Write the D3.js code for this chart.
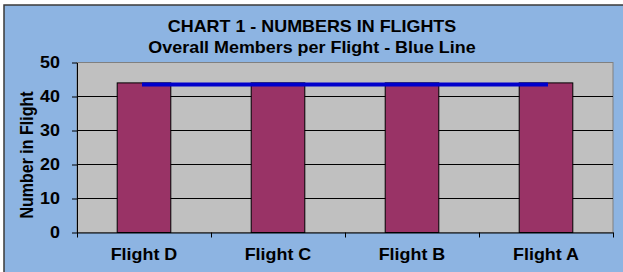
<!DOCTYPE html>
<html lang="en">
<head>
<meta charset="UTF-8">
<title>Chart 1 - Numbers in Flights</title>
<style>
  html, body { margin: 0; padding: 0; background: #fff; }
  svg { display: block; }
  text { font-family: "Liberation Sans", Arial, sans-serif; font-weight: bold; fill: #000; }
</style>
</head>
<body>
<div id="chart"></div>
<script src="https://cdn.jsdelivr.net/npm/d3@7"></script>
<script>
  const flights = ['Flight D', 'Flight C', 'Flight B', 'Flight A'];
  const members = [44, 44, 44, 44];
  const overall = [43.5, 43.5, 43.5, 43.5]; // blue line
  const yTicks = [0, 10, 20, 30, 40, 50];
  const titleLines = ['CHART 1 - NUMBERS IN FLIGHTS', 'Overall Members per Flight - Blue Line'];

  const W = 623, H = 272;
  const plot = {left: 77, right: 613, top: 62.5, bottom: 232.5};
  const sx = 1.12; // the text in the original is drawn a bit wide

  const svg = d3.select('#chart').append('svg')
    .attr('width', W)
    .attr('height', H);

  // chart area
  svg.append('rect')
    .attr('x', 4).attr('y', 5)
    .attr('width', W).attr('height', H)
    .attr('fill', '#8db4e2')
    .attr('stroke', '#3a3a3a')
    .attr('stroke-width', 1.5);

  const x = d3.scaleBand()
    .domain(flights)
    .range([plot.left, plot.right])
    .paddingInner(0.6)
    .paddingOuter(0.3);

  const y = d3.scaleLinear()
    .domain([0, 50])
    .range([plot.bottom, plot.top]);

  // plot area
  svg.append('rect')
    .attr('x', plot.left).attr('y', plot.top)
    .attr('width', plot.right - plot.left)
    .attr('height', plot.bottom - plot.top)
    .attr('fill', '#c0c0c0')
    .attr('stroke', '#808080');

  // gridlines
  svg.append('g')
    .selectAll('line')
    .data(yTicks.filter(d => d > 0 && d < 50))
    .join('line')
    .attr('x1', plot.left).attr('x2', plot.right)
    .attr('y1', d => y(d)).attr('y2', d => y(d))
    .attr('stroke', '#000');

  // bars
  svg.append('g')
    .selectAll('rect')
    .data(members)
    .join('rect')
    .attr('x', (d, i) => x(flights[i]))
    .attr('y', d => y(d))
    .attr('width', x.bandwidth())
    .attr('height', d => y(0) - y(d))
    .attr('fill', '#993366')
    .attr('stroke', '#000');

  // overall line
  const line = d3.line()
    .x((d, i) => x(flights[i]) + x.bandwidth() / 2)
    .y(d => y(d));

  svg.append('path')
    .datum(overall)
    .attr('d', line)
    .attr('fill', 'none')
    .attr('stroke', '#0000cc')
    .attr('stroke-width', 4)
    .attr('stroke-linecap', 'square');

  // y axis
  const yAxis = svg.append('g')
    .attr('transform', `translate(${plot.left},0)`)
    .call(d3.axisLeft(y).tickValues(yTicks).tickSize(5).tickSizeOuter(0));
  yAxis.attr('font-size', 16).attr('font-family', null);
  yAxis.select('.domain').attr('stroke', '#000');
  yAxis.selectAll('.tick line').attr('stroke', '#000');
  yAxis.selectAll('.tick text')
    .attr('x', null)
    .attr('transform', `translate(-17,0) scale(${sx},1)`);

  // x axis: ticks sit between the categories
  const xEdge = d3.scaleLinear().domain([0, flights.length]).range([plot.left, plot.right]);
  const xTicks = svg.append('g')
    .attr('transform', `translate(0,${plot.bottom})`)
    .call(d3.axisBottom(xEdge).tickValues(d3.range(flights.length + 1)).tickFormat('').tickSize(5).tickSizeOuter(0));
  xTicks.select('.domain').attr('stroke', '#000');
  xTicks.selectAll('.tick line').attr('stroke', '#000');

  const xLabels = svg.append('g')
    .attr('transform', `translate(0,${plot.bottom})`)
    .call(d3.axisBottom(x).tickSize(0));
  xLabels.attr('font-size', 16).attr('font-family', null);
  xLabels.select('.domain').remove();
  xLabels.selectAll('.tick text')
    .attr('y', null)
    .attr('dy', null)
    .attr('transform', `translate(0,27.5) scale(${sx},1)`);

  // y axis title
  svg.append('text')
    .attr('transform', `translate(33,155) scale(${sx},1) rotate(-90)`)
    .attr('text-anchor', 'middle')
    .attr('font-size', 16)
    .text('Number in Flight');

  // chart title
  svg.append('g')
    .selectAll('text')
    .data(titleLines)
    .join('text')
    .attr('transform', (d, i) => `translate(312,${32 + i * 20.5}) scale(${sx},1)`)
    .attr('text-anchor', 'middle')
    .attr('font-size', 16)
    .text(d => d);
</script>
</body>
</html>
